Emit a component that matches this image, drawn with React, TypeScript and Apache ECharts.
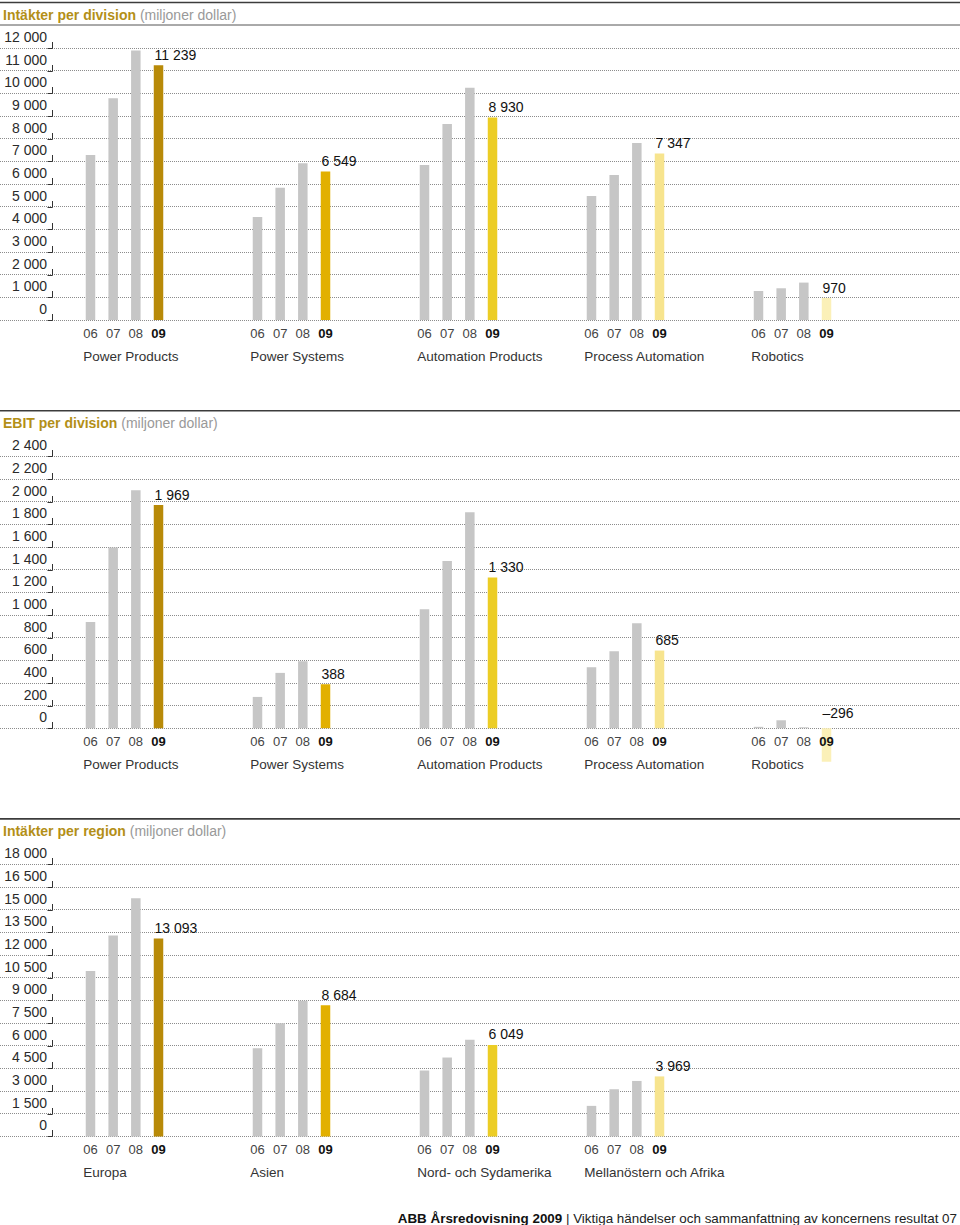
import React, { useEffect, useRef } from 'react';
import * as echarts from 'echarts';

// ---------- data ----------
const years = ['06', '07', '08', '09'];

const divisionCategories = ['Power Products', 'Power Systems', 'Automation Products', 'Process Automation', 'Robotics'];
const regionCategories = ['Europa', 'Asien', 'Nord- och Sydamerika', 'Mellanöstern och Afrika'];

const revenue06 = [7280, 4540, 6840, 5470, 1280];
const revenue07 = [9780, 5830, 8650, 6400, 1400];
const revenue08 = [11890, 6910, 10250, 7810, 1650];
const revenue09 = [11239, 6549, 8930, 7347, 970];

const ebit06 = [938, 276, 1050, 538, 12];
const ebit07 = [1594, 488, 1476, 679, 70];
const ebit08 = [2100, 591, 1906, 926, 8];
const ebit09 = [1969, 388, 1330, 685, -296];

const region06 = [10950, 5840, 4360, 2020];
const region07 = [13290, 7490, 5220, 3120];
const region08 = [15760, 8970, 6390, 3670];
const region09 = [13093, 8684, 6049, 3969];

const revenueTicks = [0, 1000, 2000, 3000, 4000, 5000, 6000, 7000, 8000, 9000, 10000, 11000, 12000];
const ebitTicks = [0, 200, 400, 600, 800, 1000, 1200, 1400, 1600, 1800, 2000, 2200, 2400];
const regionTicks = [0, 1500, 3000, 4500, 6000, 7500, 9000, 10500, 12000, 13500, 15000, 16500, 18000];

const titles = ['Intäkter per division', 'EBIT per division', 'Intäkter per region'];
const subtitle = '(miljoner dollar)';
const footerBold = 'ABB Årsredovisning 2009';
const footerText = '| Viktiga händelser och sammanfattning av koncernens resultat 07';

// ---------- styles ----------
const FONT = '"Liberation Sans", Arial, Helvetica, sans-serif';
const GRAY = '#c6c6c6';
const divisionHighlight = ['#b88a08', '#e2b000', '#eccd25', '#f7e48e', '#fbf0b8'];
const regionHighlight = ['#b88a08', '#e2b000', '#eccd25', '#f7e48e'];
const TITLE_GOLD = '#b38f17';

const PANEL_STEP = 408.2;
const GRID_TOP = 48;
const GRID_H = 272;
const BAND = 167;
const GRID_LEFT = 41;
const BAR_W = 9.5;
const SLOT = 22.67;

const fmt = (v: number) => {
  const s = Math.abs(Math.round(v)).toString().replace(/\B(?=(\d{3})+(?!\d))/g, ' ');
  return (v < 0 ? '\u2013' : '') + s;
};

const panels = [
  { title: titles[0], cats: divisionCategories, series: [revenue06, revenue07, revenue08, revenue09], ticks: revenueTicks, hi: divisionHighlight },
  { title: titles[1], cats: divisionCategories, series: [ebit06, ebit07, ebit08, ebit09], ticks: ebitTicks, hi: divisionHighlight },
  { title: titles[2], cats: regionCategories, series: [region06, region07, region08, region09], ticks: regionTicks, hi: regionHighlight },
];

function buildOption() {
  const grid: any[] = [];
  const xAxis: any[] = [];
  const yAxis: any[] = [];
  const series: any[] = [];
  const graphic: any[] = [];

  panels.forEach((p, k) => {
    const off = k * PANEL_STEP;
    const top = GRID_TOP + off;
    const min = p.ticks[0];
    const max = p.ticks[p.ticks.length - 1];
    const interval = p.ticks[1] - p.ticks[0];
    const hIdx = grid.length;
    // helper grid: full-width gridlines + y labels + tick marks
    grid.push({ left: 0, right: 0, top, height: GRID_H });
    xAxis.push({ gridIndex: hIdx, type: 'value', min: 0, max: 1, show: false });
    yAxis.push({
      gridIndex: hIdx, type: 'value', min, max, interval,
      axisLine: { show: false }, axisTick: { show: false },
      splitLine: { show: true, lineStyle: { type: 'dotted', color: '#8c8c8c', width: 1 } },
      axisLabel: {
        inside: true, margin: 47, align: 'right', verticalAlign: 'bottom', lineHeight: 14,
        padding: [0, 0, 4, 0], fontSize: 14, color: '#2a2a2a', fontFamily: FONT,
        formatter: (v: number) => fmt(v),
      },
    });
    series.push({
      type: 'custom', xAxisIndex: hIdx, yAxisIndex: hIdx, silent: true, z: 3,
      data: p.ticks.map((t) => [0, t]),
      renderItem: (params: any, api: any) => {
        const c = api.coord([0, api.value(1)]);
        const x = c[0] + 52.5;
        const y = Math.round(c[1]) + 0.5;
        return {
          type: 'polyline',
          shape: { points: [[x - 5, y], [x, y], [x, y - 6.5]] },
          style: { stroke: '#333', lineWidth: 1, fill: null },
        };
      },
    });

    // main grid: bars
    const mIdx = grid.length;
    grid.push({ left: GRID_LEFT, top, height: GRID_H, width: BAND * p.cats.length });
    xAxis.push({
      gridIndex: mIdx, type: 'category', data: p.cats, z: 5,
      axisLine: { show: false }, axisTick: { show: false }, splitLine: { show: false },
      axisLabel: {
        interval: 0, margin: 5, width: SLOT * 4, overflow: 'none', align: 'center',
        formatter: (v: string) => `{y|${years[0]}}{y|${years[1]}}{y|${years[2]}}{h|${years[3]}}\n{n|${v}}`,
        rich: {
          y: { width: SLOT, align: 'center', fontSize: 13, color: '#444', lineHeight: 16, fontFamily: FONT },
          h: { width: SLOT, align: 'center', fontSize: 13, color: '#111', fontWeight: 'bold', lineHeight: 16, fontFamily: FONT },
          n: { align: 'left', fontSize: 13.5, color: '#333', lineHeight: 30, padding: [0, 0, 0, 4], fontFamily: FONT },
        },
      },
    });
    yAxis.push({ gridIndex: mIdx, type: 'value', min, max, interval, show: false, splitLine: { show: false } });

    p.series.forEach((vals, j) => {
      const isLast = j === p.series.length - 1;
      series.push({
        type: 'bar', name: years[j], xAxisIndex: mIdx, yAxisIndex: mIdx, z: 2, clip: false,
        barWidth: BAR_W, barGap: `${((SLOT - BAR_W) / BAR_W) * 100}%`,
        data: isLast
          ? vals.map((v, i) => ({
              value: v,
              itemStyle: { color: p.hi[i] },
              label: v < 0 ? { distance: 8.5 } : undefined,
            }))
          : vals,
        itemStyle: { color: GRAY },
        label: isLast
          ? {
              show: true, position: 'top', distance: 3.5, align: 'left', offset: [-4, 0],
              fontSize: 14, color: '#111', fontFamily: FONT,
              formatter: (d: any) => fmt(d.value),
            }
          : { show: false },
      });
    });

    // rule + title
    const ruleY = 2.5 + off;
    graphic.push({
      type: 'line', shape: { x1: 0, y1: ruleY, x2: 960, y2: ruleY },
      style: { stroke: '#3c3c3c', lineWidth: 1.6 },
    });
    graphic.push({
      type: 'text', x: 3, y: 14.5 + off,
      style: {
        text: `{a|${p.title}} {b|${subtitle}}`,
        verticalAlign: 'middle',
        rich: {
          a: { fontSize: 14, fontWeight: 'bold', fill: TITLE_GOLD, fontFamily: FONT },
          b: { fontSize: 14, fill: '#999', fontFamily: FONT },
        },
        font: `14px ${FONT}`,
      },
    });
    if (k === 0) {
      graphic.push({
        type: 'line', shape: { x1: 0, y1: 25, x2: 960, y2: 25 },
        style: { stroke: '#555', lineWidth: 1 },
      });
    }
  });

  graphic.push({
    type: 'text', x: 957, y: 1218,
    style: {
      text: `{a|${footerBold}} {b|${footerText}}`,
      align: 'right', verticalAlign: 'middle',
      rich: {
        a: { fontSize: 13.4, fontWeight: 'bold', fill: '#111', fontFamily: FONT },
        b: { fontSize: 13.4, fill: '#222', fontFamily: FONT },
      },
      font: `13.4px ${FONT}`,
    },
  });

  return {
    animation: false,
    backgroundColor: '#ffffff',
    textStyle: { fontFamily: FONT },
    grid, xAxis, yAxis, series, graphic,
  };
}

export default function App() {
  const ref = useRef<HTMLDivElement>(null);
  useEffect(() => {
    if (!ref.current) return;
    const chart = echarts.init(ref.current, undefined, { renderer: 'svg' });
    chart.setOption(buildOption() as any);
    return () => chart.dispose();
  }, []);
  return (
    <div
      ref={ref}
      style={{ position: 'absolute', left: 0, top: 0, width: 960, height: 1225, background: '#fff' }}
    />
  );
}
